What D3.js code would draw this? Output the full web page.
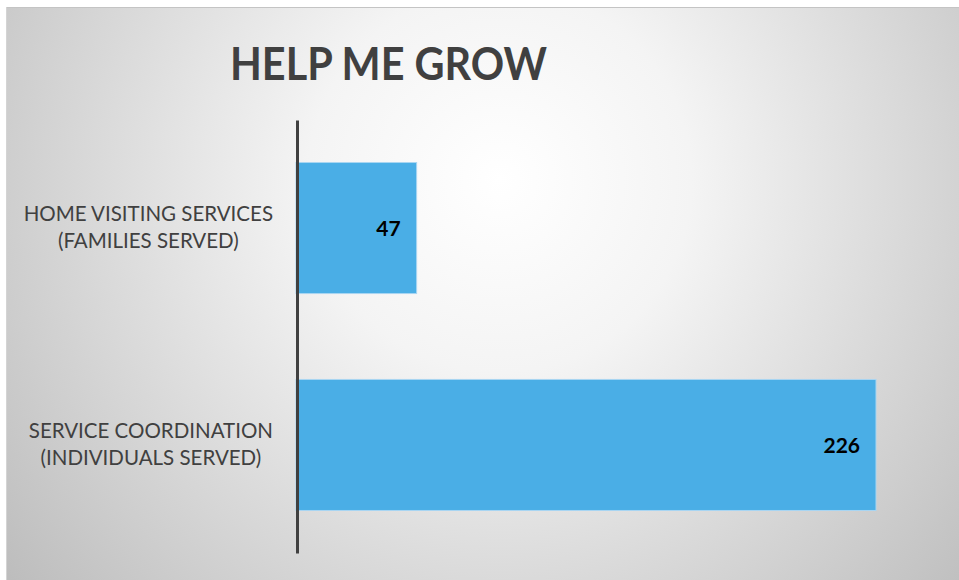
<!DOCTYPE html>
<html><head><meta charset="utf-8">
<script src="https://cdn.jsdelivr.net/npm/d3@7"></script>
<style>html,body{margin:0;padding:0;background:#fff;}svg{display:block;}</style>
</head><body>
<svg id="c" width="959" height="580"></svg>
<script>
const title = "HELP ME GROW";
const categories = [["HOME VISITING SERVICES","(FAMILIES SERVED)"],["SERVICE COORDINATION","(INDIVIDUALS SERVED)"]];
const values = [47, 226];

const svg = d3.select("#c");
const defs = svg.append("defs");
const g = defs.append("radialGradient").attr("id","bg").attr("gradientUnits","userSpaceOnUse")
  .attr("cx",500).attr("cy",180).attr("r",640);
g.append("stop").attr("offset","0%").attr("stop-color","#ffffff");
g.append("stop").attr("offset","30%").attr("stop-color","#f4f4f4");
g.append("stop").attr("offset","100%").attr("stop-color","#bcbcbc");

svg.append("rect").attr("x",6).attr("y",7).attr("width",953).attr("height",573).attr("fill","url(#bg)");
svg.append("line").attr("x1",6).attr("x2",959).attr("y1",7.5).attr("y2",7.5).attr("stroke","#c4c4c4").attr("stroke-width",1);
svg.append("line").attr("x1",6.5).attr("x2",6.5).attr("y1",7).attr("y2",580).attr("stroke","#d4d4d4").attr("stroke-width",1);

const idx = categories.map((d,i)=>i);
const y = d3.scaleBand().domain(idx).range([120,553]).paddingInner(0.396).paddingOuter(0.196);
const x = d3.scaleLinear().domain([0,226]).range([296,876]);

svg.append("g").selectAll("rect").data(values).join("rect")
  .attr("x", x(0)).attr("y",(d,i)=>y(i)).attr("width",d=>x(d)-x(0)).attr("height",y.bandwidth())
  .attr("fill","#4aaee6").attr("stroke","#a9d6f2").attr("stroke-width",1);

// axis
const yAxis = d3.axisLeft(y).tickSize(0).tickFormat("");
const ax = svg.append("g").attr("transform","translate(297,0)").call(yAxis);
ax.select(".domain").attr("stroke","#404040").attr("stroke-width",3);

// value labels
svg.append("g").selectAll("text").data(values).join("text")
  .attr("x",d=>x(d)-16).attr("y",(d,i)=>y(i)+y.bandwidth()/2+8)
  .attr("text-anchor","end").attr("font-family","Lato, 'Open Sans', sans-serif")
  .attr("font-weight","bold").attr("font-size",21).attr("fill","#000").text(d=>d);

// category labels
categories.forEach((lines,i)=>{
  const t = svg.append("text").attr("font-family","Lato, 'Open Sans', sans-serif").attr("font-size",20.5).attr("fill","#404040").attr("text-anchor","middle");
  const cy = y(i)+y.bandwidth()/2;
  lines.forEach((l,j)=>{
    t.append("tspan").attr("x",0).attr("y",cy-7+j*27).text(l);
  });
  let maxW = 0;
  t.selectAll("tspan").each(function(){ maxW = Math.max(maxW, this.getComputedTextLength()); });
  t.selectAll("tspan").attr("x",273 - maxW/2);
});

svg.append("text").attr("x",230).attr("y",80).attr("font-family","Lato, 'Open Sans', sans-serif")
  .attr("font-weight","bold").attr("font-size",46).attr("fill","#404040")
  .attr("textLength",317).attr("lengthAdjust","spacingAndGlyphs").text(title);
</script>
</body></html>
